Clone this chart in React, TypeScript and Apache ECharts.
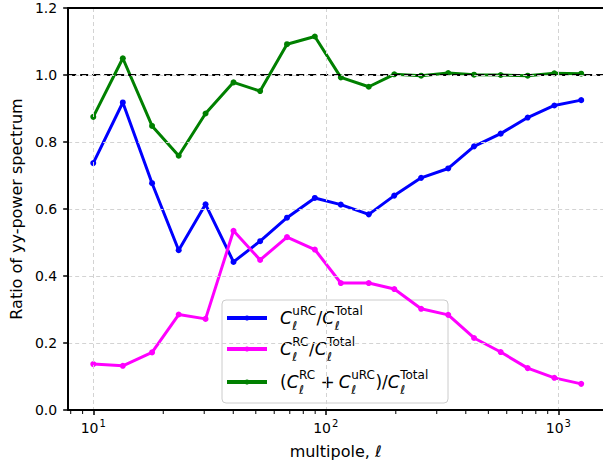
import React, { useEffect, useRef } from "react";
import * as echarts from "echarts";

const multipoles = [10, 13.4, 17.9, 23.3, 30.4, 40.1, 52.2, 68.1, 89.7, 116, 153, 197, 257, 336, 434, 565, 738, 961, 1254];
const ratioURC = [0.737, 0.918, 0.677, 0.477, 0.614, 0.442, 0.504, 0.574, 0.633, 0.613, 0.584, 0.64, 0.693, 0.721, 0.787, 0.825, 0.873, 0.909, 0.925];
const ratioRC = [0.137, 0.132, 0.172, 0.285, 0.272, 0.535, 0.448, 0.516, 0.479, 0.379, 0.379, 0.361, 0.302, 0.284, 0.215, 0.173, 0.125, 0.096, 0.078];
const ratioSum = [0.875, 1.05, 0.848, 0.759, 0.885, 0.978, 0.952, 1.092, 1.115, 0.993, 0.965, 1.002, 0.998, 1.006, 1.001, 1.0, 0.998, 1.005, 1.004];
const minorTickValues = [8, 9, 20, 30, 40, 50, 60, 70, 80, 90, 200, 300, 400, 500, 600, 700, 800, 900];
const yTicks = [0, 0.2, 0.4, 0.6, 0.8, 1.0, 1.2];
const xRange = [7.8, 1556];
const referenceLevel = 1.0;

const FONT = "DejaVu Sans";
const COLORS = ["#0000ff", "#ff00ff", "#008000"];

type Tok = { c: string; sup: string } | { p: string; padL?: number; padR?: number };

const legendEntries: Tok[][] = [
  [{ c: "C", sup: "uRC" }, { p: "/" }, { c: "C", sup: "Total" }],
  [{ c: "C", sup: "RC" }, { p: "/" }, { c: "C", sup: "Total" }],
  [
    { p: "(" },
    { c: "C", sup: "RC" },
    { p: "+", padL: 5, padR: 4 },
    { c: "C", sup: "uRC" },
    { p: ")" },
    { p: "/" },
    { c: "C", sup: "Total" },
  ],
];

function measurer() {
  const cv = document.createElement("canvas");
  const ctx = cv.getContext("2d")!;
  return (t: string, font: string) => {
    ctx.font = font;
    return ctx.measureText(t).width;
  };
}

function buildLegend() {
  const measure = measurer();
  const big = 17;
  const small = 12;
  const children: any[] = [];
  const boxX = 222, boxY = 300, boxW = 226, boxH = 103;
  children.push({
    type: "rect",
    shape: { x: boxX, y: boxY, width: boxW, height: boxH, r: 4 },
    style: { fill: "rgba(255,255,255,0.8)", stroke: "#cccccc", lineWidth: 1 },
  });
  const rows = [318, 349, 382];
  legendEntries.forEach((toks, i) => {
    const yc = rows[i];
    children.push({
      type: "line",
      shape: { x1: 227, y1: yc, x2: 267, y2: yc },
      style: { stroke: COLORS[i], lineWidth: 4 },
    });
    children.push({
      type: "circle",
      shape: { cx: 247, cy: yc, r: 2.5 },
      style: { fill: COLORS[i] },
    });
    let x = 280;
    toks.forEach((tk: any) => {
      if (tk.c) {
        const fC = `italic ${big}px ${FONT}`;
        const wC = measure(tk.c, fC);
        children.push({
          type: "text",
          x, y: yc,
          style: { text: tk.c, font: fC, fill: "#000", align: "left", verticalAlign: "middle" },
        });
        const sx = x + wC + 0.5;
        const fS = `${small}px ${FONT}`;
        children.push({
          type: "text",
          x: sx, y: yc - 7,
          style: { text: tk.sup, font: fS, fill: "#000", align: "left", verticalAlign: "middle" },
        });
        children.push({
          type: "text",
          x: sx, y: yc + 8,
          style: { text: "ℓ", font: fS, fill: "#000", align: "left", verticalAlign: "middle" },
        });
        x = sx + Math.max(measure(tk.sup, fS), measure("ℓ", fS)) + 0.5;
      } else {
        const fP = `${big}px ${FONT}`;
        x += tk.padL || 0;
        children.push({
          type: "text",
          x, y: yc,
          style: { text: tk.p, font: fP, fill: "#000", align: "left", verticalAlign: "middle" },
        });
        x += measure(tk.p, fP) + (tk.padR || 0);
      }
    });
  });
  return { type: "group", z: 100, children };
}

export default function App() {
  const ref = useRef<HTMLDivElement>(null);
  useEffect(() => {
    document.body.style.margin = "0";
    const chart = echarts.init(ref.current!, undefined, { renderer: "svg" });
    const lineSeries = (name: string, data: number[], color: string, z: number) => ({
      name,
      type: "line",
      data: multipoles.map((m, i) => [m, data[i]]),
      symbol: "circle",
      symbolSize: 6,
      showSymbol: true,
      lineStyle: { color, width: 3 },
      itemStyle: { color },
      z,
      silent: true,
    });
    const spine = { show: true, onZero: false, lineStyle: { color: "#000", width: 2 } };
    const grid = { color: "#d3d3d3", type: [4, 3], width: 1 };
    chart.setOption({
      animation: false,
      grid: { left: 65, right: 0, top: 8, bottom: 58 },
      xAxis: [
        {
          type: "log",
          logBase: 10,
          min: xRange[0],
          max: xRange[1],
          axisLine: spine,
          axisTick: { show: true, length: 5, lineStyle: { color: "#000", width: 1.5 } },
          splitLine: { show: true, lineStyle: grid },
          axisLabel: {
            showMinLabel: false,
            showMaxLabel: false,
            margin: 8,
            color: "#000",
            formatter: (v: number) => `{b|10}{s|${Math.round(Math.log10(v))}}`,
            rich: {
              b: { fontSize: 14, fontFamily: FONT, color: "#000", verticalAlign: "bottom" },
              s: { fontSize: 10, fontFamily: FONT, color: "#000", verticalAlign: "bottom", padding: [0, 0, 7, 1] },
            },
          },
          name: "multipole, ℓ",
          nameLocation: "middle",
          nameGap: 33,
          nameTextStyle: { fontSize: 16, fontFamily: FONT, color: "#000" },
          z: 20,
        },
        {
          type: "log",
          logBase: 10,
          min: xRange[0],
          max: xRange[1],
          position: "top",
          axisLine: spine,
          axisTick: { show: false },
          axisLabel: { show: false },
          splitLine: { show: false },
          z: 20,
        },
      ],
      yAxis: {
        type: "value",
        min: yTicks[0],
        max: yTicks[yTicks.length - 1],
        interval: 0.2,
        axisLine: spine,
        axisTick: { show: true, length: 5, lineStyle: { color: "#000", width: 1.5 } },
        splitLine: { show: true, lineStyle: grid },
        axisLabel: {
          margin: 11,
          fontSize: 14,
          fontFamily: FONT,
          color: "#000",
          formatter: (v: number) => v.toFixed(1),
        },
        name: "Ratio of yy-power spectrum",
        nameLocation: "middle",
        nameRotate: 90,
        nameGap: 44,
        nameTextStyle: { fontSize: 16, fontFamily: FONT, color: "#000" },
        z: 20,
      },
      series: [
        lineSeries("uRC", ratioURC, COLORS[0], 3),
        lineSeries("RC", ratioRC, COLORS[1], 4),
        lineSeries("sum", ratioSum, COLORS[2], 5),
        {
          name: "reference",
          type: "line",
          data: xRange.map((x) => [x, referenceLevel]),
          symbol: "none",
          z: 8,
          silent: true,
          lineStyle: { color: "#000", type: [8, 4], width: 2 },
        },
        {
          type: "custom",
          silent: true,
          clip: false,
          z: 10,
          data: minorTickValues.map((v) => [v, 0]),
          renderItem: (_p: any, api: any) => {
            const pt = api.coord([api.value(0), 0]);
            return {
              type: "line",
              shape: { x1: pt[0], y1: pt[1] + 1, x2: pt[0], y2: pt[1] + 4 },
              style: { stroke: "#000", lineWidth: 1 },
            };
          },
        },
      ],
      graphic: [buildLegend()],
    });
    return () => chart.dispose();
  }, []);
  return <div ref={ref} style={{ width: 603, height: 468 }} />;
}
